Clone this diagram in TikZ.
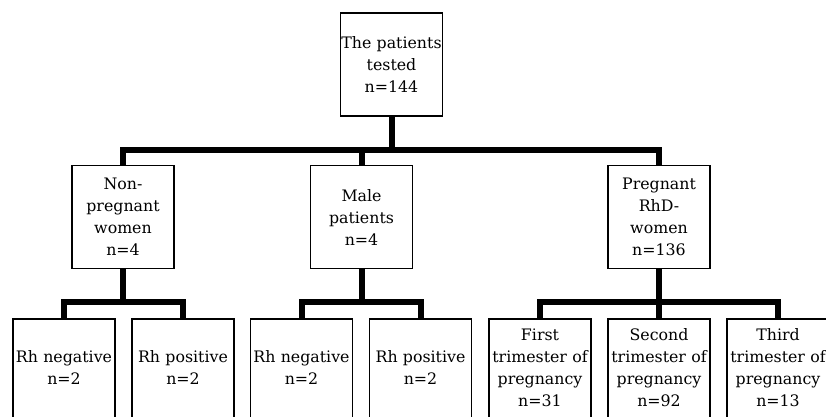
\documentclass[tikz,border=0pt]{standalone}
\usepackage{fontspec}
\setmainfont{DejaVu Serif}
\begin{document}
\begin{tikzpicture}[x=1pt,y=1pt,
  box/.style={draw, line width=1.8pt, fill=white, minimum width=102pt, minimum height=103pt,
    text width=102pt, inner sep=0pt, align=center, font=\fontsize{15.8}{22}\selectfont},
  leaf/.style={box, minimum height=106pt, execute at end node={\endgraf\vspace*{9pt}}},
  conn/.style={line width=6pt, line join=miter}]
\useasboundingbox (0,0) rectangle (826,416);
\node[box] (top) at (391.5,351.5) {The patients\\tested\\n=144};
\node[box] (np) at (123,199) {Non-\\pregnant\\women\\n=4};
\node[box] (male) at (361.5,199) {Male\\patients\\n=4};
\node[box] (preg) at (659,199) {Pregnant\\RhD-\\women\\n=136};
\node[leaf] (a1) at (64,44) {Rh negative\\n=2};
\node[leaf] (a2) at (183,44) {Rh positive\\n=2};
\node[leaf] (b1) at (301.5,44) {Rh negative\\n=2};
\node[leaf] (b2) at (420.5,44) {Rh positive\\n=2};
\node[leaf] (c1) at (540,44) {First\\trimester of\\pregnancy\\n=31};
\node[leaf] (c2) at (659,44) {Second\\trimester of\\pregnancy\\n=92};
\node[leaf] (c3) at (778,44) {Third\\trimester of\\pregnancy\\n=13};
\draw[conn] (top.south) -- (top.south |- 0,266) -| (np.north);
\draw[conn] (top.south) -- (top.south |- 0,266) -| (male.north);
\draw[conn] (top.south) -- (top.south |- 0,266) -| (preg.north);
\draw[conn] (np.south) -- (np.south |- 0,114) -| (a1.north);
\draw[conn] (np.south) -- (np.south |- 0,114) -| (a2.north);
\draw[conn] (male.south) -- (male.south |- 0,114) -| (b1.north);
\draw[conn] (male.south) -- (male.south |- 0,114) -| (b2.north);
\draw[conn] (preg.south) -- (preg.south |- 0,114) -| (c1.north);
\draw[conn] (preg.south) -- (preg.south |- 0,114) -| (c2.north);
\draw[conn] (preg.south) -- (preg.south |- 0,114) -| (c3.north);
\end{tikzpicture}
\end{document}
